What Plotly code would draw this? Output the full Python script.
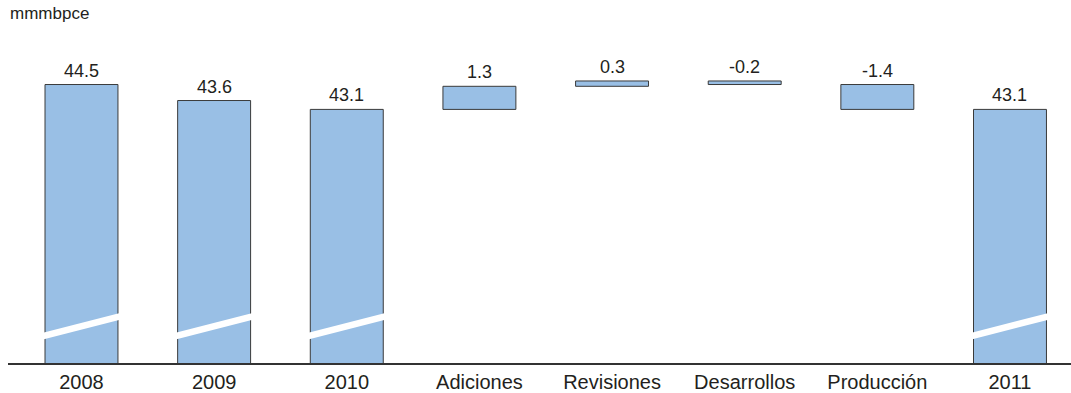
import plotly.graph_objects as go

# Reserves (mmmbpce): yearly totals and the 2010 -> 2011 reconciliation
categories = ["2008", "2009", "2010", "Adiciones", "Revisiones", "Desarrollos", "Producción", "2011"]
values = [44.5, 43.6, 43.1, 1.3, 0.3, -0.2, -1.4, 43.1]
kinds = ["total", "total", "total", "delta", "delta", "delta", "delta", "total"]
unit_label = "mmmbpce"

# Styling
BAR_FILL = "#99bfe5"
BAR_EDGE = "#3a3a3a"
TEXT_COLOR = "#231f20"
FONT = "Liberation Sans, Arial, sans-serif"
BAR_WIDTH = 0.55
Y_RANGE = [28.82, 49.26]          # truncated value axis (broken below)
BREAK_Y_LEFT, BREAK_Y_RIGHT, BREAK_GAP = 30.36, 31.42, 0.38

# Floating bar bases: totals stand on the axis, deltas continue the running sum
bases, tops, running = [], [], 0.0
for v, k in zip(values, kinds):
    if k == "total":
        bases.append(0.0)
        running = v
        tops.append(v)
    else:
        bases.append(running)
        tops.append(max(running, running + v))
        running += v

x = list(range(len(categories)))

fig = go.Figure()
fig.add_trace(go.Bar(
    x=x, y=values, base=bases, width=BAR_WIDTH,
    marker=dict(color=BAR_FILL, line=dict(color=BAR_EDGE, width=1)),
    hoverinfo="skip",
))

# White diagonal cut marking the axis break on the full-height bars
half = BAR_WIDTH / 2 + 0.03
slope = (BREAK_Y_RIGHT - BREAK_Y_LEFT) / BAR_WIDTH
mid = (BREAK_Y_LEFT + BREAK_Y_RIGHT) / 2
for xi, k in zip(x, kinds):
    if k != "total":
        continue
    yl = mid - slope * half
    yr = mid + slope * half
    g = BREAK_GAP / 2
    fig.add_trace(go.Scatter(
        x=[xi - half, xi + half, xi + half, xi - half, xi - half],
        y=[yl - g, yr - g, yr + g, yl + g, yl - g],
        fill="toself", fillcolor="white", mode="lines",
        line=dict(width=0, color="white"), hoverinfo="skip",
    ))

# Value labels above each bar
for xi, top, v in zip(x, tops, values):
    fig.add_annotation(
        x=xi, y=top, text=f"{v:.1f}", showarrow=False,
        yanchor="bottom", yshift=2,
        font=dict(family=FONT, size=18, color=TEXT_COLOR),
    )

fig.add_annotation(
    xref="paper", yref="paper", x=0, y=1, xanchor="left", yanchor="top",
    yshift=-2, text=unit_label, showarrow=False,
    font=dict(family=FONT, size=17, color=TEXT_COLOR),
)

fig.update_layout(
    width=1071, height=393,
    margin=dict(l=8, r=0, t=0, b=28),
    paper_bgcolor="white", plot_bgcolor="white",
    showlegend=False,
    xaxis=dict(
        range=[-0.554, 7.46], tickvals=x, ticktext=categories,
        showline=True, linecolor="#333333", linewidth=2,
        showgrid=False, zeroline=False, ticks="", ticklabelstandoff=0,
        tickfont=dict(family=FONT, size=20, color=TEXT_COLOR),
    ),
    yaxis=dict(range=Y_RANGE, visible=False, showgrid=False, zeroline=False),
)

fig.write_html("out.html")
